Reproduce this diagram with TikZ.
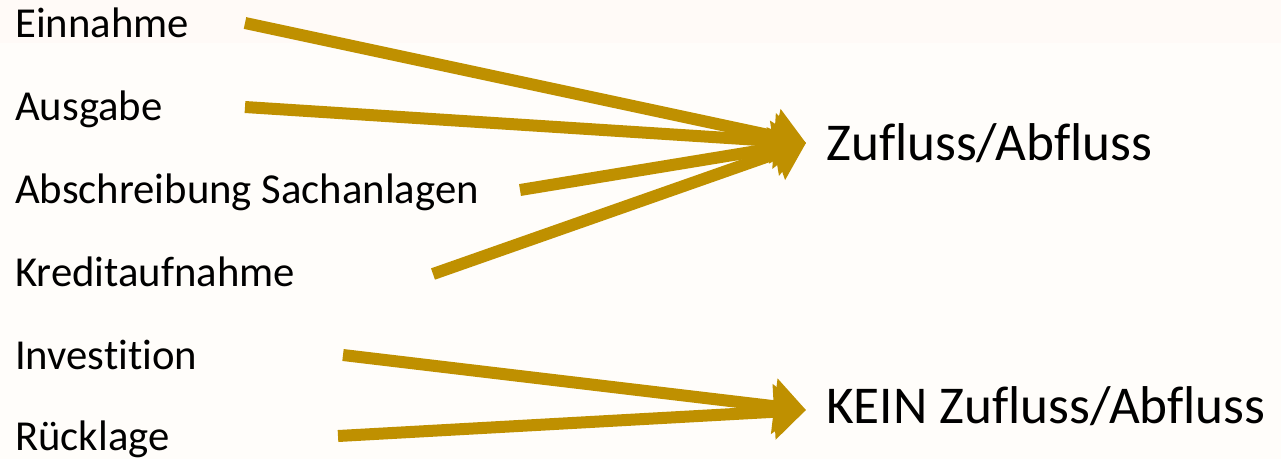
\documentclass[tikz,border=0pt]{standalone}
\usepackage{fontspec}
\setmainfont[Ligatures={NoCommon}]{Carlito}
\usetikzlibrary{arrows.meta}
\definecolor{bgtop}{RGB}{255,250,247}
\definecolor{bgmain}{RGB}{255,253,250}
\definecolor{gold}{RGB}{191,144,0}
\begin{document}
\begin{tikzpicture}[x=1pt,y=-1pt,
  lbl/.style={anchor=base west,inner sep=0pt,font=\fontsize{42.7}{50}\selectfont},
  big/.style={anchor=base west,inner sep=0pt,font=\fontsize{53.2}{62}\selectfont},
  flow/.style={draw=gold,line width=12pt,-{Triangle[length=32pt,width=54pt]}}]
\fill[bgmain] (0,0) rectangle (1281,459);
\fill[bgtop] (0,0) rectangle (1281,43);
\useasboundingbox (0,0) rectangle (1281,459);
% labels
\node[lbl] (ein) at (15,37) {Einnahme};
\node[lbl] (aus) at (15,120) {Ausgabe};
\node[lbl] (abs) at (15,203) {Abschreibung Sachanlagen};
\node[lbl] (kre) at (15,286) {Kreditaufnahme};
\node[lbl] (inv) at (15,369) {Investition};
\node[lbl] (rue) at (15,450) {Rücklage};
\node[big] (zu) at (826,160) {Zufluss/Abfluss};
\node[big] (kein) at (826,423) {KEIN Zufluss/Abfluss};
% arrow ends
\coordinate (s1) at (245,23);
\coordinate (s2) at (245,107);
\coordinate (s3) at (520,190);
\coordinate (s4) at (433,274);
\coordinate (s5) at (343,355);
\coordinate (s6) at (338,436);
\coordinate (t1) at (806,143);
\coordinate (t2) at (806,410);
\draw[flow] (s1) -- (t1);
\draw[flow] (s2) -- (t1);
\draw[flow] (s3) -- (t1);
\draw[flow] (s4) -- (t1);
\draw[flow] (s5) -- (t2);
\draw[flow] (s6) -- (t2);
\end{tikzpicture}
\end{document}
